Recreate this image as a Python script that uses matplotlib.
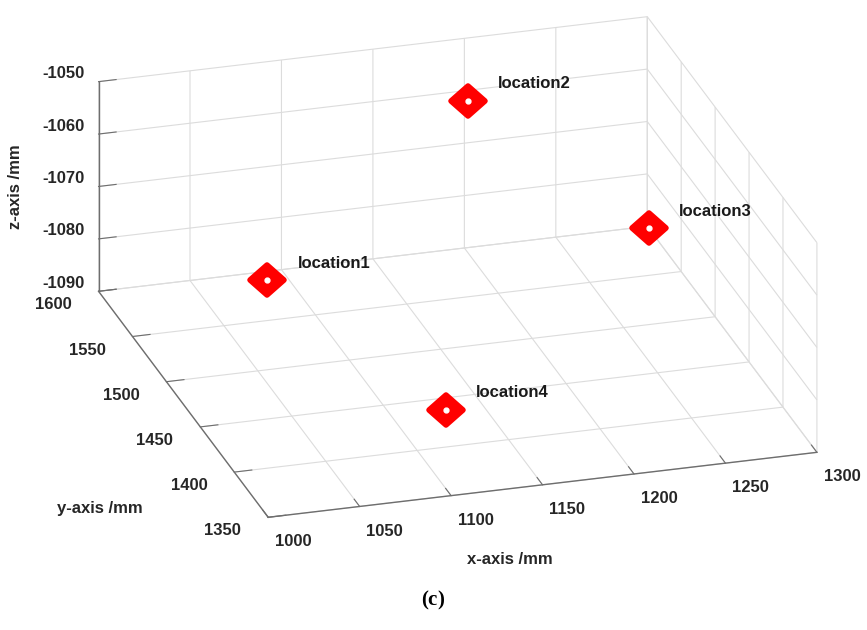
import matplotlib
matplotlib.use('Agg')
import matplotlib.pyplot as plt
from matplotlib.markers import MarkerStyle
from matplotlib.transforms import Affine2D
from mpl_toolkits.mplot3d import proj3d

# ---- data ----
labels = ['location1', 'location2', 'location3', 'location4']
x_mm = [1089, 1202, 1296, 1130]
y_mm = [1591, 1600, 1587, 1438]
z_mm = [-1090, -1062, -1088, -1090]

x_ticks = [1000, 1050, 1100, 1150, 1200, 1250, 1300]
y_ticks = [1350, 1400, 1450, 1500, 1550, 1600]
z_ticks = [-1090, -1080, -1070, -1060, -1050]

plt.rcParams['font.family'] = ['Liberation Sans', 'DejaVu Sans']
plt.rcParams['font.weight'] = 'bold'
plt.rcParams['axes.unicode_minus'] = False
plt.rcParams['mathtext.fontset'] = 'custom'
plt.rcParams['mathtext.rm'] = 'Liberation Serif'
plt.rcParams['mathtext.bf'] = 'Liberation Serif:bold'

fig = plt.figure(figsize=(8.67, 6.3), dpi=100)
ax = fig.add_axes([0.0395, 0.1346, 0.96, 0.86], projection='3d', proj_type='ortho')
ax.view_init(elev=23.4, azim=-106.6)
ax.set_box_aspect((1, 1.037, 0.399), zoom=1.5336)
ax.set_xlim(x_ticks[0], x_ticks[-1])
ax.set_ylim(y_ticks[0], y_ticks[-1])
ax.set_zlim(z_ticks[0], z_ticks[-1])
ax.set_xticks(x_ticks)
ax.set_yticks(y_ticks)
ax.set_zticks(z_ticks)
ax.title.set_visible(False)
ax._left_title.set_visible(False)
ax._right_title.set_visible(False)

for axis in (ax.xaxis, ax.yaxis, ax.zaxis):
    axis.set_pane_color((1, 1, 1, 0))
    axis.pane.set_edgecolor('#dcdcdc')
    axis._axinfo['grid'].update(color='#dcdcdc', linewidth=0.8)
    axis._axinfo['tick'].update(inward_factor=0.0, outward_factor=0.4)
    axis._axinfo['axisline'].update(color='#6e6e6e', linewidth=1.0)
    axis.line.set_color('#6e6e6e')
    axis.line.set_linewidth(1.0)
    axis.label.set_visible(False)
    axis.offsetText.set_visible(False)

ax.tick_params(labelsize=12, colors='#262626')
ax.xaxis.set_tick_params(pad=0)
ax.yaxis.set_tick_params(pad=2)
ax.zaxis.set_tick_params(pad=2)
for t in ax.xaxis.get_ticklines() + ax.yaxis.get_ticklines() + ax.zaxis.get_ticklines():
    t.set_color('#6e6e6e')
for lbl in ax.xaxis.get_ticklabels():
    lbl.set_horizontalalignment('left')
for lbl in ax.yaxis.get_ticklabels():
    lbl.set_horizontalalignment('right')
    lbl.set_verticalalignment('center')
for lbl in ax.zaxis.get_ticklabels():
    lbl.set_verticalalignment('center')

diamond = MarkerStyle('D', joinstyle='round', transform=Affine2D().scale(1.0, 0.88))
for xv, yv, zv in zip(x_mm, y_mm, z_mm):
    ax.plot([xv], [yv], [zv], ls='none', marker=diamond, ms=17,
            mfc='red', mec='red', mew=4, zorder=3, clip_on=False)
    ax.plot([xv], [yv], [zv], ls='none', marker='o', ms=3.5,
            mfc='white', mec='white', zorder=4, clip_on=False)

# establish the 3D projection, then label each point via the projected position
fig.canvas.draw()
for xv, yv, zv, lab in zip(x_mm, y_mm, z_mm, labels):
    px, py, _ = proj3d.proj_transform(xv, yv, zv, ax.M)
    ax.annotate(lab, xy=(px, py), xycoords='data', xytext=(30, 17),
                textcoords='offset pixels', fontsize=12, fontweight='bold',
                color='#1a1a1a', ha='left', va='center', annotation_clip=False)

fig.text(510 / 867, 1 - 560 / 630, 'x-axis /mm', fontsize=12, fontweight='bold',
         color='#262626', ha='center', va='center')
fig.text(100 / 867, 1 - 508 / 630, 'y-axis /mm', fontsize=12, fontweight='bold',
         color='#262626', ha='center', va='center')
fig.text(15 / 867, 1 - 187 / 630, 'z-axis /mm', fontsize=12, fontweight='bold',
         color='#262626', ha='center', va='center', rotation=90)

fig.text(433 / 867, 1 - 600 / 630, r'$\mathrm{(}\mathbf{c}\mathrm{)}$', fontsize=15,
         color='black', ha='center', va='center')

fig.savefig('out.png', dpi=100, facecolor='white')
